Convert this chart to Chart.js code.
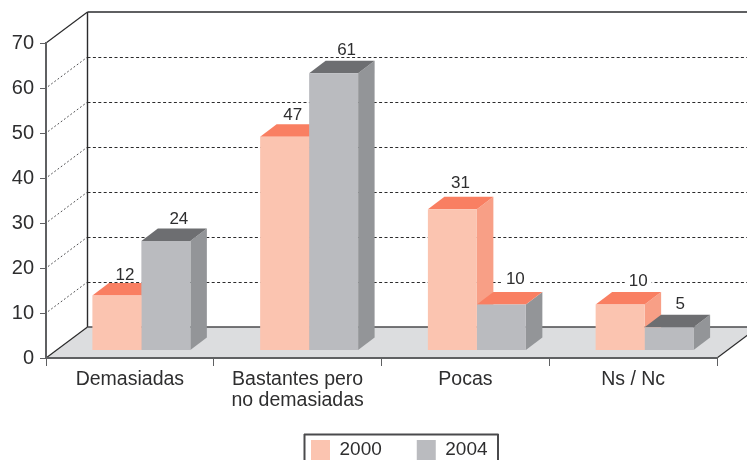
<!DOCTYPE html>
<html>
<head>
<meta charset="utf-8">
<style>html,body{margin:0;padding:0;background:#fff}#wrap{width:747px;height:460px;position:relative;overflow:hidden}</style>
<script src="https://cdn.jsdelivr.net/npm/chart.js@4"></script>
</head>
<body>
<div id="wrap"><canvas id="c" width="747" height="460"></canvas></div>
<script>
const categories = [['Demasiadas'], ['Bastantes pero', 'no demasiadas'], ['Pocas'], ['Ns / Nc']];
const seriesNames = ['2000', '2004'];
const values2000 = [12, 47, 31, 10];
const values2004 = [24, 61, 10, 5];
const yTicks = [0, 10, 20, 30, 40, 50, 60, 70];

const FONT = '"Liberation Sans", Arimo, Arial, sans-serif';
const INK = '#2e2e2f', AXIS = '#5f6062', DARK = '#2b2b2c';
const DEPTH = {x: 41.5, y: -31};       // wall/floor depth
const BAR_DEPTH = {x: 16.5, y: -12.5}; // bar depth
const BAR_SHIFT = {x: 11.5, y: -8};    // bars stand inside the floor
const faces = [
  {front: '#fbc4b0', top: '#f97f62', side: '#f89f86'},
  {front: '#babbbf', top: '#6d6e71', side: '#939598'}
];
const topOverride = {'1:2': '#f97f62'}; // the 2004 "Pocas" bar has an orange top
const labelNudgeX = [[8, 8, 8, 18], [13, 13, 14, 11]];
const labelNudgeY = [[2, 1, -3, -1], [1, 0, -3, 0]];

function poly(ctx, pts, fill) {
  ctx.beginPath();
  pts.forEach((p, i) => i ? ctx.lineTo(p[0], p[1]) : ctx.moveTo(p[0], p[1]));
  ctx.closePath();
  ctx.fillStyle = fill;
  ctx.fill();
}
function seg(ctx, a, b, color, w, dash) {
  ctx.save();
  ctx.beginPath();
  ctx.moveTo(a[0], a[1]);
  ctx.lineTo(b[0], b[1]);
  ctx.strokeStyle = color;
  ctx.lineWidth = w;
  ctx.setLineDash(dash || []);
  ctx.stroke();
  ctx.restore();
}

const frame3d = {
  id: 'frame3d',
  afterLayout(chart) {
    const lg = chart.legend, pad = lg.options.labels.padding;
    lg.left = 311 - pad; lg.right = 600; lg.top = 440 - pad; lg.bottom = 470;
    lg.width = lg.right - lg.left; lg.height = lg.bottom - lg.top;
    chart.scales.x.bottom = 432; // room for the two-line category label
  },
  beforeDraw(chart) {
    const ctx = chart.ctx, a = chart.chartArea, y = chart.scales.y;
    const d = DEPTH, W = chart.width;
    poly(ctx, [[a.left, a.bottom], [a.left + d.x, a.bottom + d.y], [a.right + d.x, a.bottom + d.y], [a.right, a.bottom]], '#dcddDf');
    yTicks.slice(1, -1).forEach(v => {
      const p = y.getPixelForValue(v);
      const back = Math.round(p + d.y) + 0.5;
      seg(ctx, [a.left + d.x, back], [W, back], '#2b2b2c', 1, [3, 2.4]);
      seg(ctx, [a.left + 2, p - 1.5], [a.left + d.x, p + d.y], '#3a3a3c', 0.9, [1.8, 2.2]);
    });
    seg(ctx, [a.left + d.x, a.top + d.y], [W, a.top + d.y], AXIS, 2);
    seg(ctx, [a.left + d.x, a.top + d.y], [a.left + d.x, a.bottom + d.y], DARK, 1.4);
    seg(ctx, [a.left, a.top], [a.left + d.x, a.top + d.y], DARK, 1.2);
    seg(ctx, [a.left, a.bottom], [a.left + d.x, a.bottom + d.y], DARK, 1.2);
    seg(ctx, [a.left + d.x, a.bottom + d.y], [W, a.bottom + d.y], '#4a4a4c', 1.6);
    seg(ctx, [a.right, a.bottom], [a.right + d.x, a.bottom + d.y], DARK, 1.2);
  },
  beforeDatasetsDraw(chart) {
    const ctx = chart.ctx, b = BAR_DEPTH;
    ctx.save();
    ctx.translate(BAR_SHIFT.x, BAR_SHIFT.y);
    [0, 1].forEach(ds => {
      chart.getDatasetMeta(ds).data.forEach((bar, i) => {
        const w = bar.width / 2, l = bar.x - w, r = bar.x + w, t = bar.y, bt = bar.base;
        poly(ctx, [[r, bt], [r + b.x, bt + b.y], [r + b.x, t + b.y], [r, t]], faces[ds].side);
        poly(ctx, [[l, t], [l + b.x, t + b.y], [r + b.x, t + b.y], [r, t]], topOverride[ds + ':' + i] || faces[ds].top);
      });
    });
  },
  afterDatasetsDraw(chart) {
    const ctx = chart.ctx, b = BAR_DEPTH;
    ctx.restore();
    ctx.save();
    ctx.font = '17px ' + FONT;
    ctx.textAlign = 'center';
    ctx.textBaseline = 'middle';
    [0, 1].forEach(ds => {
      const meta = chart.getDatasetMeta(ds);
      meta.data.forEach((bar, i) => {
        const txt = String(chart.data.datasets[ds].data[i]);
        const x = bar.x + BAR_SHIFT.x + labelNudgeX[ds][i];
        const yy = bar.y + BAR_SHIFT.y + b.y - 10.5 + labelNudgeY[ds][i];
        const tw = ctx.measureText(txt).width + 8;
        ctx.fillStyle = '#fff';
        ctx.fillRect(x - tw / 2, yy - 7, tw, 13);
        ctx.fillStyle = INK;
        ctx.fillText(txt, x, yy + 0.5);
      });
    });
    ctx.restore();
  },
  afterDraw(chart) {
    const ctx = chart.ctx;
    seg(ctx, [304, 434.5], [498.5, 434.5], '#4a4a4c', 2);
    seg(ctx, [304.5, 434], [304.5, 460], '#4a4a4c', 2);
    seg(ctx, [498, 434], [498, 460], '#4a4a4c', 2);
  }
};

new Chart(document.getElementById('c'), {
  type: 'bar',
  data: {
    labels: categories,
    datasets: [
      {label: seriesNames[0], data: values2000, yAxisID: 'yBars', backgroundColor: faces[0].front, borderWidth: 0, categoryPercentage: 0.584, barPercentage: 1},
      {label: seriesNames[1], data: values2004, yAxisID: 'yBars', backgroundColor: faces[1].front, borderWidth: 0, categoryPercentage: 0.584, barPercentage: 1}
    ]
  },
  options: {
    responsive: false,
    animation: false,
    events: [],
    layout: {padding: {top: 43, right: 30, left: 0, bottom: 0}},
    plugins: {
      tooltip: {enabled: false},
      title: {display: false},
      legend: {
        display: true,
        position: 'bottom',
        align: 'start',
        labels: {boxWidth: 19, boxHeight: 20, padding: 35, color: INK, font: {family: FONT, size: 19}}
      }
    },
    scales: {
      x: {
        grid: {drawOnChartArea: false, drawTicks: true, tickLength: 8, color: AXIS, lineWidth: 1},
        border: {color: AXIS, width: 2},
        ticks: {color: INK, font: {family: FONT, size: 19.5, lineHeight: 1.03}, padding: 4, maxRotation: 0, autoSkip: false},
        afterFit(s) { s.height = 102 - s.chart.legend.height; }
      },
      y: {
        min: 0, max: 70,
        afterBuildTicks(s) { s.ticks = yTicks.map(v => ({value: v})); },
        grid: {drawOnChartArea: false, drawTicks: true, tickLength: 6, color: AXIS, lineWidth: 1},
        border: {color: AXIS, width: 2},
        ticks: {color: INK, font: {family: FONT, size: 20}, padding: 6},
        afterFit(s) { s.width = 46; }
      },
      yBars: {display: false, min: 0, max: 69.4}
    }
  },
  plugins: [frame3d]
});
</script>
</body>
</html>
